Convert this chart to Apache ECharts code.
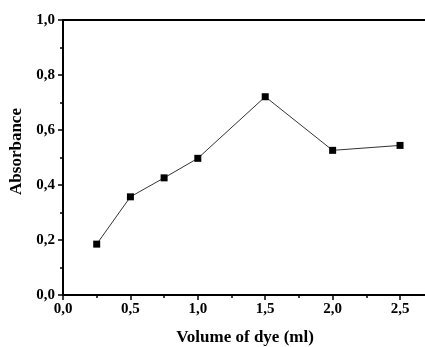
<!DOCTYPE html>
<html>
<head>
<meta charset="utf-8">
<script src="https://cdn.jsdelivr.net/npm/echarts@6/dist/echarts.min.js"></script>
<style>
  html, body { margin: 0; padding: 0; background: #fff; }
  #chart1 { width: 425px; height: 347px; }
</style>
</head>
<body>
<div id="chart1"></div>
<script>
// 数据
var volumes = [0.25, 0.5, 0.75, 1.0, 1.5, 2.0, 2.5]
var absorbance = [0.185, 0.357, 0.426, 0.497, 0.721, 0.526, 0.544]
var xTicks = [0, 0.5, 1.0, 1.5, 2.0, 2.5]
var yTicks = [0, 0.2, 0.4, 0.6, 0.8, 1.0]

function commaLabel (v) {
  return v.toFixed(1).replace('.', ',')
}

var points = volumes.map(function (v, i) {
  return [v, absorbance[i]]
})

var charts = echarts.init(document.getElementById('chart1'))
var font = '"Liberation Serif", "Times New Roman", serif'
var option = {
  animation: false,
  grid: {
    left: 63,
    right: -2,
    top: 20,
    bottom: 52,
    containLabel: false,
    outerBoundsMode: 'none'
  },
  xAxis: [
    {
      type: 'value',
      min: 0,
      max: 2.7,
      interval: 0.5,
      name: 'Volume of dye (ml)',
      nameLocation: 'middle',
      nameGap: 34,
      nameTextStyle: { fontFamily: font, fontWeight: 'bold', fontSize: 17, color: '#000' },
      axisLine: { lineStyle: { color: '#000', width: 2 } },
      axisTick: { length: 5, lineStyle: { color: '#000', width: 1.5 } },
      minorTick: { show: true, splitNumber: 2, length: 3, lineStyle: { color: '#000', width: 1.5 } },
      axisLabel: {
        fontFamily: font,
        fontWeight: 'bold',
        fontSize: 15,
        color: '#000',
        margin: 7,
        formatter: function (v) {
          return xTicks.indexOf(v) >= 0 ? commaLabel(v) : ''
        }
      },
      splitLine: { show: false }
    },
    {
      type: 'value',
      position: 'top',
      min: 0,
      max: 2.7,
      axisLine: { show: true, lineStyle: { color: '#000', width: 2 } },
      axisTick: { show: false },
      axisLabel: { show: false },
      splitLine: { show: false }
    }
  ],
  yAxis: {
    type: 'value',
    min: 0,
    max: 1.0,
    interval: 0.2,
    name: 'Absorbance',
    nameLocation: 'middle',
    nameGap: 38,
    nameTextStyle: { fontFamily: font, fontWeight: 'bold', fontSize: 17, color: '#000', padding: [0, 0, 0, 12] },
    axisLine: { show: true, lineStyle: { color: '#000', width: 2 } },
    axisTick: { length: 5, lineStyle: { color: '#000', width: 1.5 } },
    minorTick: { show: true, splitNumber: 2, length: 3, lineStyle: { color: '#000', width: 1.5 } },
    axisLabel: {
      fontFamily: font,
      fontWeight: 'bold',
      fontSize: 15,
      color: '#000',
      margin: 8,
      formatter: function (v) {
        return yTicks.indexOf(Math.round(v * 10) / 10) >= 0 ? commaLabel(v) : ''
      }
    },
    splitLine: { show: false }
  },
  series: [
    {
      type: 'line',
      data: points,
      symbol: 'rect',
      symbolSize: 7,
      itemStyle: { color: '#000' },
      lineStyle: { color: '#333', width: 1 }
    }
  ]
}
charts.setOption(option)
</script>
</body>
</html>
